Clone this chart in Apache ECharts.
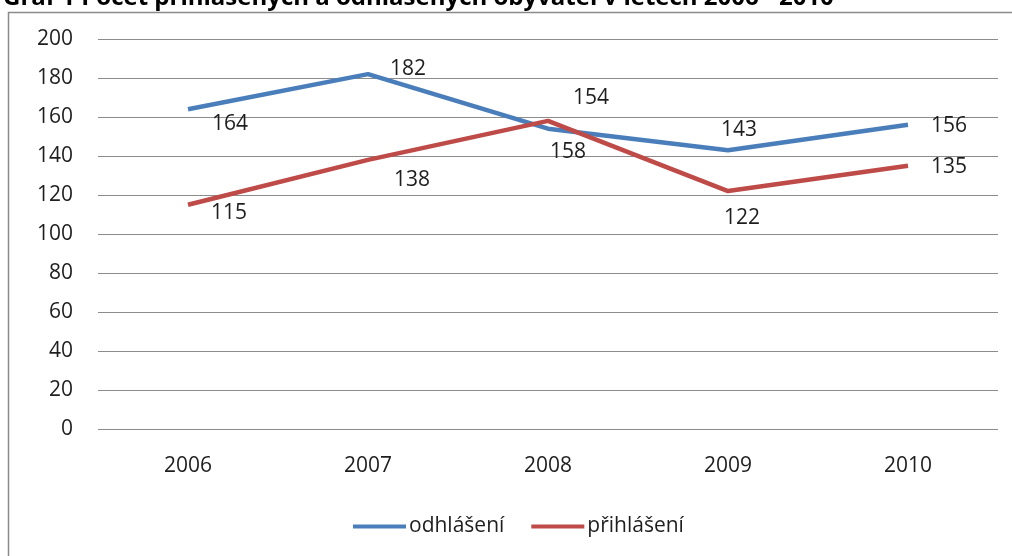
<!DOCTYPE html>
<html>
<head>
<meta charset="utf-8">
<script src="https://cdn.jsdelivr.net/npm/echarts@6/dist/echarts.min.js"></script>
<style>
html,body{margin:0;padding:0;background:#fff;}
#c{width:1012px;height:556px;}
</style>
</head>
<body>
<div id="c"></div>
<script>
var titleText = 'Graf 1 Počet přihlášených a odhlášených obyvatel v letech 2006 - 2010';
var categories = ['2006', '2007', '2008', '2009', '2010'];
var seriesNames = ['odhlášení', 'přihlášení'];
var odhlaseni = [164, 182, 154, 143, 156];
var prihlaseni = [115, 138, 158, 122, 135];
var yTicks = { min: 0, max: 200, interval: 20 };

// label offsets (style only)
var offOdh = [[42, 15], [40, -5], [43, -31], [11, -20], [41, 1]];
var offPri = [[41, 8], [44, 20], [20, 31], [14, 27], [41, 1]];

function build(vals, offs) {
  return vals.map(function (v, i) {
    return { value: v, label: { offset: offs[i] } };
  });
}

var font = 'Open Sans, DejaVu Sans, sans-serif';
var txt = '#1e1e1e';
var chart = echarts.init(document.getElementById('c'), null, { renderer: 'canvas' });
chart.setOption({
  animation: false,
  backgroundColor: '#fff',
  title: {
    text: titleText,
    left: -2,
    top: -19,
    textStyle: { fontFamily: font, fontWeight: 'bold', fontSize: 24, color: '#000' }
  },
  graphic: [{
    type: 'rect',
    shape: { x: 8.5, y: 12.5, width: 1020, height: 560 },
    style: { fill: 'none', stroke: '#8a8a8a', lineWidth: 1.5 },
    silent: true,
    z: -1
  }],
  grid: { left: 98, right: 14, top: 39, bottom: 127, containLabel: false },
  legend: {
    top: 511,
    left: 348,
    itemWidth: 53,
    itemHeight: 4,
    itemGap: 27,
    icon: 'rect',
    textStyle: { fontFamily: font, fontSize: 21, color: txt, padding: [0, 0, 0, -2] },
    data: seriesNames
  },
  xAxis: {
    type: 'category',
    data: categories,
    boundaryGap: true,
    axisLine: { show: false },
    axisTick: { show: false },
    axisLabel: { fontFamily: font, fontSize: 21, color: txt, margin: 27 }
  },
  yAxis: {
    type: 'value',
    min: yTicks.min,
    max: yTicks.max,
    interval: yTicks.interval,
    axisLine: { show: false },
    axisTick: { show: false },
    axisLabel: { fontFamily: font, fontSize: 21, color: txt, margin: 25 },
    splitLine: { lineStyle: { color: '#8c8c8c', width: 1 } }
  },
  series: [
    {
      name: seriesNames[0],
      type: 'line',
      data: build(odhlaseni, offOdh),
      symbol: 'circle',
      symbolSize: 0,
      showSymbol: true,
      lineStyle: { color: '#4A7EBB', width: 4.5 },
      itemStyle: { color: '#4A7EBB' },
      label: { show: true, position: 'inside', fontFamily: font, fontSize: 21, color: txt }
    },
    {
      name: seriesNames[1],
      type: 'line',
      data: build(prihlaseni, offPri),
      symbol: 'circle',
      symbolSize: 0,
      showSymbol: true,
      lineStyle: { color: '#BE4B48', width: 4.5 },
      itemStyle: { color: '#BE4B48' },
      label: { show: true, position: 'inside', fontFamily: font, fontSize: 21, color: txt }
    }
  ]
});
</script>
</body>
</html>
